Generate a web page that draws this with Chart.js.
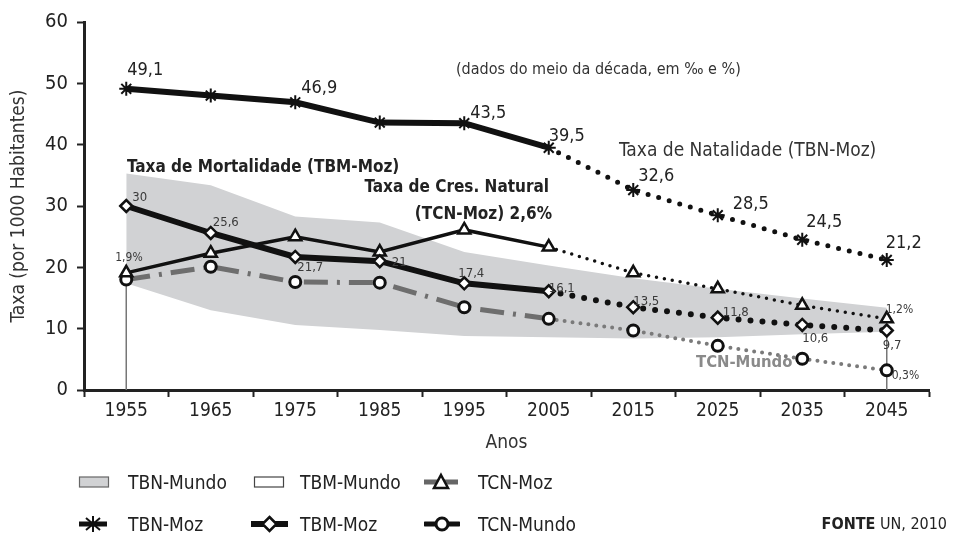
<!DOCTYPE html>
<html lang="pt">
<head>
<meta charset="UTF-8">
<title>Taxas de natalidade, mortalidade e crescimento natural - Moçambique e Mundo</title>
<script src="https://cdn.jsdelivr.net/npm/chart.js@4"></script>
<style>
  body { margin: 0; background: #fff; }
  #wrap {
    position: relative;
    width: 953px;
    height: 535px;
    font-family: 'DejaVu Sans Condensed', Roboto, sans-serif;
    color: #222;
  }
  #wrap canvas { position: absolute; left: 0; top: 0; }
  .lg { position: absolute; font-size: 19px; line-height: 26px; white-space: nowrap; }
  .ic { position: absolute; }
</style>
</head>
<body>
<div id="wrap">
  <canvas id="grafico"></canvas>

  <!-- legenda, linha 1 -->
  <svg class="ic" style="left:78px;top:475px" width="33" height="14"><rect x="1.5" y="2" width="29" height="10" fill="#d1d2d4" stroke="#666" stroke-width="1.2"/></svg>
  <div class="lg" style="left:128px;top:469px">TBN-Mundo</div>
  <svg class="ic" style="left:253px;top:475px" width="33" height="14"><rect x="1.5" y="2" width="29" height="10" fill="#fff" stroke="#444" stroke-width="1.2"/></svg>
  <div class="lg" style="left:300px;top:469px">TBM-Mundo</div>
  <svg class="ic" style="left:423px;top:472px" width="36" height="20"><line x1="1" y1="10" x2="35" y2="10" stroke="#666" stroke-width="5"/><polygon points="18,3 25,16 11,16" fill="#fff" stroke="#111" stroke-width="2.5"/></svg>
  <div class="lg" style="left:478px;top:469px">TCN-Moz</div>

  <!-- legenda, linha 2 -->
  <svg class="ic" style="left:78px;top:514px" width="30" height="20"><line x1="1" y1="10" x2="29" y2="10" stroke="#111" stroke-width="5"/><g stroke="#111" stroke-width="2"><line x1="15" y1="2" x2="15" y2="18"/><line x1="8" y1="4" x2="22" y2="16"/><line x1="22" y1="4" x2="8" y2="16"/></g></svg>
  <div class="lg" style="left:128px;top:511px">TBN-Moz</div>
  <svg class="ic" style="left:251px;top:514px" width="37" height="20"><line x1="1" y1="10" x2="36" y2="10" stroke="#111" stroke-width="6" stroke-linecap="round"/><polygon points="18.5,3 25.5,10 18.5,17 11.5,10" fill="#fff" stroke="#111" stroke-width="2.5"/></svg>
  <div class="lg" style="left:300px;top:511px">TBM-Moz</div>
  <svg class="ic" style="left:424px;top:514px" width="36" height="20"><line x1="1" y1="10" x2="35" y2="10" stroke="#111" stroke-width="5" stroke-linecap="round"/><circle cx="18" cy="10" r="6" fill="#fff" stroke="#111" stroke-width="3"/></svg>
  <div class="lg" style="left:478px;top:511px">TCN-Mundo</div>

  <div class="lg" style="right:6px;top:511px;font-size:16px"><b>FONTE</b> UN, 2010</div>
</div>

<script>
  const anos = ['1955', '1965', '1975', '1985', '1995', '2005', '2015', '2025', '2035', '2045'];

  // taxas em por mil (TCN em por mil = % x 10)
  const tbnMoz   = [49.1, 48.0, 46.9, 43.6, 43.5, 39.5, 32.6, 28.5, 24.5, 21.2];
  const tbmMoz   = [30.0, 25.6, 21.7, 21.0, 17.4, 16.1, 13.5, 11.8, 10.6, 9.7];
  const tcnMoz   = [19.1, 22.3, 25.0, 22.5, 26.1, 23.3, 19.1, 16.5, 13.8, 11.6];
  const tcnMundo = [18.0, 20.1, 17.6, 17.5, 13.5, 11.6, 9.7, 7.2, 5.1, 3.2];
  const tbnMundo = [35.3, 33.4, 28.3, 27.3, 22.5, 20.3, 18.2, 16.5, 14.9, 13.4];
  const tbmMundo = [17.4, 13.0, 10.6, 9.8, 8.8, 8.6, 8.4, 8.6, 9.1, 9.5];

  const yMin = 0, yMax = 60, yPasso = 10;

  const FONTE = "'DejaVu Sans Condensed', Roboto, sans-serif";
  Chart.defaults.font.family = FONTE;
  Chart.defaults.color = '#222';

  // a partir de 2005 os valores sao projeccoes (pontilhado)
  const projeccao = c => c.p0DataIndex >= 5;
  const pontilhado = (largura, passo, cor) => ({
    borderDash: c => projeccao(c) ? [0, passo] : undefined,
    borderWidth: c => projeccao(c) ? largura : undefined,
    borderCapStyle: c => projeccao(c) ? 'round' : undefined,
    borderColor: c => projeccao(c) && cor ? cor : undefined
  });

  const fmt = v => v.toFixed(1).replace('.0', '').replace('.', ',');
  const fmtPct = v => (v / 10).toFixed(1).replace('.', ',') + '%';

  // [dataset, indice, dx, dy, tamanho, formato]
  const etiquetas = [
    [0, 0, 1, -19, 18, fmt], [0, 2, 6, -14, 18, fmt], [0, 4, 6, -10, 18, fmt],
    [0, 5, 0, -11, 18, fmt], [0, 6, 5, -14, 18, fmt], [0, 7, 15, -11, 18, fmt],
    [0, 8, 4, -17, 18, fmt], [0, 9, -1, -17, 18, fmt],
    [1, 0, 6, -8, 13, fmt], [1, 1, 2, -10, 13, fmt], [1, 2, 2, 11, 13, fmt],
    [1, 3, 12, 1, 13, fmt], [1, 4, -6, -10, 13, fmt], [1, 5, 0, -3, 13, fmt],
    [1, 6, 0, -6, 13, fmt], [1, 7, 5, -5, 13, fmt], [1, 8, 0, 14, 13, fmt],
    [1, 9, -4, 15, 13, fmt],
    [2, 0, -11, -15, 12, fmtPct], [2, 9, -1, -9, 12, fmtPct],
    [3, 9, 5, 6, 12, fmtPct]
  ];

  const notas = [
    ['(dados do meio da década, em ‰ e %)', 456, 70, 'normal 16px', '#333', 'left'],
    ['Taxa de Natalidade (TBN-Moz)', 619, 151, 'normal 19px', '#333', 'left'],
    ['Taxa de Mortalidade (TBM-Moz)', 127, 168, 'bold 17px', '#222', 'left'],
    ['Taxa de Cres. Natural', 549, 188, 'bold 17px', '#222', 'right'],
    ['(TCN-Moz) 2,6%', 552, 215, 'bold 17px', '#222', 'right'],
    ['TCN-Mundo', 696, 363, 'bold 16.5px', '#8a8a8a', 'left']
  ];

  const textos = {
    id: 'textos',
    beforeDatasetsDraw(chart) {
      // linhas verticais finas em 1955 e 2045
      const {ctx, chartArea} = chart;
      const x = chart.scales.x, y = chart.scales.y;
      ctx.save();
      ctx.strokeStyle = '#777';
      ctx.lineWidth = 1.5;
      [[0, tcnMoz[0]], [9, tbmMoz[9]]].forEach(([i, v]) => {
        const px = x.getPixelForValue(i);
        ctx.beginPath();
        ctx.moveTo(px, y.getPixelForValue(v));
        ctx.lineTo(px, chartArea.bottom);
        ctx.stroke();
      });
      ctx.restore();
    },
    afterDraw(chart) {
      const ctx = chart.ctx;
      ctx.save();
      ctx.textBaseline = 'middle';
      etiquetas.forEach(([ds, i, dx, dy, tam, f]) => {
        const p = chart.getDatasetMeta(ds).data[i];
        const v = chart.data.datasets[ds].data[i];
        ctx.font = tam + 'px ' + FONTE;
        ctx.fillStyle = tam > 15 ? '#222' : '#3a3a3a';
        ctx.textAlign = 'left';
        ctx.fillText(f(v), p.x + dx, p.y + dy);
      });
      notas.forEach(([t, nx, ny, fonte, cor, al]) => {
        ctx.font = fonte + ' ' + FONTE;
        ctx.fillStyle = cor;
        ctx.textAlign = al;
        ctx.fillText(t, nx, ny);
      });
      ctx.restore();
    }
  };

  new Chart(document.getElementById('grafico'), {
    type: 'line',
    data: {
      labels: anos,
      datasets: [
        {
          label: 'TBN-Moz', data: tbnMoz,
          borderColor: '#111', borderWidth: 6,
          pointStyle: 'star', pointRadius: 7, pointBorderWidth: 2,
          pointBorderColor: '#111', pointBackgroundColor: '#111',
          segment: pontilhado(5, 11)
        },
        {
          label: 'TBM-Moz', data: tbmMoz,
          borderColor: '#111', borderWidth: 6,
          pointStyle: 'rectRot', pointRadius: 6, pointBorderWidth: 2.5,
          pointBorderColor: '#111', pointBackgroundColor: '#fff',
          segment: pontilhado(6, 12)
        },
        {
          label: 'TCN-Moz', data: tcnMoz,
          borderColor: '#111', borderWidth: 3.5,
          pointStyle: 'triangle', pointRadius: 7, pointBorderWidth: 2.5,
          pointBorderColor: '#111', pointBackgroundColor: '#fff',
          segment: pontilhado(3.5, 8)
        },
        {
          label: 'TCN-Mundo', data: tcnMundo,
          borderColor: '#6e6e6e', borderWidth: 5, borderDash: [24, 9, 3, 9],
          pointStyle: 'circle', pointRadius: 5.5, pointBorderWidth: 3,
          pointBorderColor: '#111', pointBackgroundColor: '#fff',
          segment: pontilhado(4, 8, '#7a7a7a')
        },
        {
          label: 'TBN-Mundo', data: tbnMundo,
          borderWidth: 0, pointRadius: 0,
          backgroundColor: '#d1d2d4', fill: '+1'
        },
        {
          label: 'TBM-Mundo', data: tbmMundo,
          borderWidth: 0, pointRadius: 0, fill: false
        }
      ]
    },
    options: {
      responsive: true,
      maintainAspectRatio: false,
      animation: false,
      layout: { padding: { left: 0, top: 22, right: 24, bottom: 80 } },
      plugins: { legend: { display: false }, tooltip: { enabled: false } },
      scales: {
        x: {
          offset: true,
          afterFit: s => { s.height = 65; },
          grid: { offset: true, drawOnChartArea: false, tickLength: 7, tickWidth: 2, tickColor: '#222' },
          border: { display: true, width: 3, color: '#222' },
          ticks: { padding: 3, font: { size: 19 }, color: '#222' },
          title: { display: true, text: 'Anos', font: { size: 19 }, color: '#333', padding: { top: 0, bottom: 1 } }
        },
        y: {
          min: yMin, max: yMax,
          afterFit: s => { s.width = 84; },
          grid: { drawOnChartArea: false, tickLength: 7, tickWidth: 2, tickColor: '#222' },
          border: { display: true, width: 3, color: '#222' },
          ticks: { stepSize: yPasso, padding: 9, font: { size: 20 }, color: '#222' },
          title: { display: true, text: 'Taxa (por 1000 Habitantes)', font: { size: 19 }, color: '#333', padding: { top: 8, bottom: 0 } }
        }
      }
    },
    plugins: [textos]
  });
</script>
</body>
</html>
